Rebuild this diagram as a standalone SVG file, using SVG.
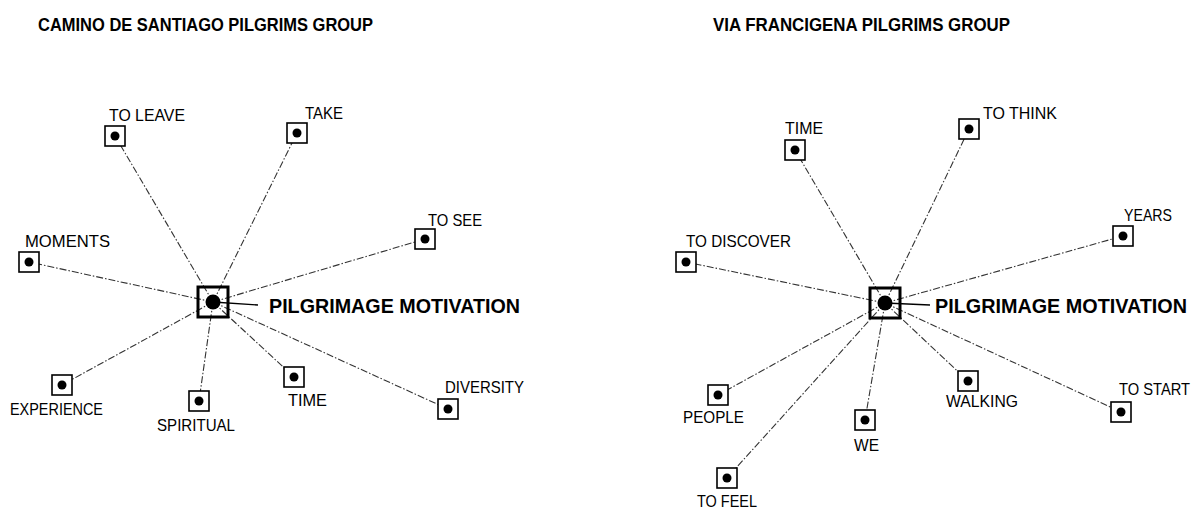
<svg xmlns="http://www.w3.org/2000/svg" width="1199" height="511" viewBox="0 0 1199 511">
  <style>
    .title { font-family: "Liberation Sans", Arial, sans-serif; font-weight: bold; font-size: 19px; fill: #000; }
    .hublabel { font-family: "Liberation Sans", Arial, sans-serif; font-weight: bold; font-size: 19.5px; fill: #000; }
    .label { font-family: "Liberation Sans", Arial, sans-serif; font-size: 17px; fill: #000; }
    .edge { stroke: #333; stroke-width: 1.1; fill: none; stroke-dasharray: 7 2 1.5 2; }
    .tie { stroke: #000; stroke-width: 1.4; fill: none; }
    .box { fill: #fff; stroke: #000; stroke-width: 1.6; }
    .hubbox { fill: none; stroke: #000; stroke-width: 3; }
    .dot { fill: #000; }
  </style>
  <rect width="1199" height="511" fill="#fff"/>

  <!-- Titles -->
  <text class="title" x="38" y="31" textLength="335" lengthAdjust="spacingAndGlyphs">CAMINO DE SANTIAGO PILGRIMS GROUP</text>
  <text class="title" x="713" y="31" textLength="297" lengthAdjust="spacingAndGlyphs">VIA FRANCIGENA PILGRIMS GROUP</text>

  <!-- Connectors -->
  <g id="connectors">
    <!-- Camino de Santiago -->
    <line class="edge" x1="213" y1="302" x2="115" y2="136"/>
    <line class="edge" x1="213" y1="302" x2="297" y2="133"/>
    <line class="edge" x1="213" y1="302" x2="425" y2="239"/>
    <line class="edge" x1="213" y1="302" x2="29" y2="262"/>
    <line class="edge" x1="213" y1="302" x2="62" y2="385"/>
    <line class="edge" x1="213" y1="302" x2="199" y2="401"/>
    <line class="edge" x1="213" y1="302" x2="294" y2="377"/>
    <line class="edge" x1="213" y1="302" x2="448" y2="409"/>
    <line class="tie" x1="213" y1="302" x2="258" y2="305"/>
    <!-- Via Francigena -->
    <line class="edge" x1="885" y1="303" x2="795" y2="150"/>
    <line class="edge" x1="885" y1="303" x2="969" y2="129"/>
    <line class="edge" x1="885" y1="303" x2="686" y2="262"/>
    <line class="edge" x1="885" y1="303" x2="1123" y2="236"/>
    <line class="edge" x1="885" y1="303" x2="718" y2="395"/>
    <line class="edge" x1="885" y1="303" x2="865" y2="420"/>
    <line class="edge" x1="885" y1="303" x2="727" y2="478"/>
    <line class="edge" x1="885" y1="303" x2="968" y2="381"/>
    <line class="edge" x1="885" y1="303" x2="1121" y2="412"/>
    <line class="tie" x1="885" y1="303" x2="930" y2="305"/>
  </g>

  <!-- Camino de Santiago nodes -->
  <g id="hub-santiago">
    <rect class="hubbox" x="198" y="287" width="30" height="30"/>
    <circle class="dot" cx="213" cy="302" r="7.5"/>
    <text class="hublabel" x="269" y="313" textLength="251" lengthAdjust="spacingAndGlyphs">PILGRIMAGE MOTIVATION</text>
  </g>
  <g id="s-to-leave">
    <rect class="box" x="105" y="126" width="20" height="20"/>
    <circle class="dot" cx="115" cy="136" r="4.5"/>
    <text class="label" x="109" y="121" textLength="76" lengthAdjust="spacingAndGlyphs">TO LEAVE</text>
  </g>
  <g id="s-take">
    <rect class="box" x="287" y="123" width="20" height="20"/>
    <circle class="dot" cx="297" cy="133" r="4.5"/>
    <text class="label" x="305" y="119" textLength="38" lengthAdjust="spacingAndGlyphs">TAKE</text>
  </g>
  <g id="s-to-see">
    <rect class="box" x="415" y="229" width="20" height="20"/>
    <circle class="dot" cx="425" cy="239" r="4.5"/>
    <text class="label" x="428" y="226" textLength="54" lengthAdjust="spacingAndGlyphs">TO SEE</text>
  </g>
  <g id="s-moments">
    <rect class="box" x="19" y="252" width="20" height="20"/>
    <circle class="dot" cx="29" cy="262" r="4.5"/>
    <text class="label" x="25" y="247" textLength="85" lengthAdjust="spacingAndGlyphs">MOMENTS</text>
  </g>
  <g id="s-experience">
    <rect class="box" x="52" y="375" width="20" height="20"/>
    <circle class="dot" cx="62" cy="385" r="4.5"/>
    <text class="label" x="10" y="415" textLength="93" lengthAdjust="spacingAndGlyphs">EXPERIENCE</text>
  </g>
  <g id="s-spiritual">
    <rect class="box" x="189" y="391" width="20" height="20"/>
    <circle class="dot" cx="199" cy="401" r="4.5"/>
    <text class="label" x="157" y="431" textLength="78" lengthAdjust="spacingAndGlyphs">SPIRITUAL</text>
  </g>
  <g id="s-time">
    <rect class="box" x="284" y="367" width="20" height="20"/>
    <circle class="dot" cx="294" cy="377" r="4.5"/>
    <text class="label" x="288" y="406" textLength="39" lengthAdjust="spacingAndGlyphs">TIME</text>
  </g>
  <g id="s-diversity">
    <rect class="box" x="438" y="399" width="20" height="20"/>
    <circle class="dot" cx="448" cy="409" r="4.5"/>
    <text class="label" x="445" y="393" textLength="79" lengthAdjust="spacingAndGlyphs">DIVERSITY</text>
  </g>

  <!-- Via Francigena nodes -->
  <g id="hub-francigena">
    <rect class="hubbox" x="870" y="288" width="30" height="30"/>
    <circle class="dot" cx="885" cy="303" r="7.5"/>
    <text class="hublabel" x="935" y="313" textLength="252" lengthAdjust="spacingAndGlyphs">PILGRIMAGE MOTIVATION</text>
  </g>
  <g id="f-time">
    <rect class="box" x="785" y="140" width="20" height="20"/>
    <circle class="dot" cx="795" cy="150" r="4.5"/>
    <text class="label" x="785" y="134" textLength="38" lengthAdjust="spacingAndGlyphs">TIME</text>
  </g>
  <g id="f-to-think">
    <rect class="box" x="959" y="119" width="20" height="20"/>
    <circle class="dot" cx="969" cy="129" r="4.5"/>
    <text class="label" x="983" y="119" textLength="74" lengthAdjust="spacingAndGlyphs">TO THINK</text>
  </g>
  <g id="f-to-discover">
    <rect class="box" x="676" y="252" width="20" height="20"/>
    <circle class="dot" cx="686" cy="262" r="4.5"/>
    <text class="label" x="686" y="247" textLength="105" lengthAdjust="spacingAndGlyphs">TO DISCOVER</text>
  </g>
  <g id="f-years">
    <rect class="box" x="1113" y="226" width="20" height="20"/>
    <circle class="dot" cx="1123" cy="236" r="4.5"/>
    <text class="label" x="1124" y="221" textLength="48" lengthAdjust="spacingAndGlyphs">YEARS</text>
  </g>
  <g id="f-people">
    <rect class="box" x="708" y="385" width="20" height="20"/>
    <circle class="dot" cx="718" cy="395" r="4.5"/>
    <text class="label" x="683" y="423" textLength="61" lengthAdjust="spacingAndGlyphs">PEOPLE</text>
  </g>
  <g id="f-we">
    <rect class="box" x="855" y="410" width="20" height="20"/>
    <circle class="dot" cx="865" cy="420" r="4.5"/>
    <text class="label" x="854" y="451" textLength="25" lengthAdjust="spacingAndGlyphs">WE</text>
  </g>
  <g id="f-to-feel">
    <rect class="box" x="717" y="468" width="20" height="20"/>
    <circle class="dot" cx="727" cy="478" r="4.5"/>
    <text class="label" x="697" y="507" textLength="60" lengthAdjust="spacingAndGlyphs">TO FEEL</text>
  </g>
  <g id="f-walking">
    <rect class="box" x="958" y="371" width="20" height="20"/>
    <circle class="dot" cx="968" cy="381" r="4.5"/>
    <text class="label" x="946" y="407" textLength="72" lengthAdjust="spacingAndGlyphs">WALKING</text>
  </g>
  <g id="f-to-start">
    <rect class="box" x="1111" y="402" width="20" height="20"/>
    <circle class="dot" cx="1121" cy="412" r="4.5"/>
    <text class="label" x="1119" y="395" textLength="71" lengthAdjust="spacingAndGlyphs">TO START</text>
  </g>
</svg>
